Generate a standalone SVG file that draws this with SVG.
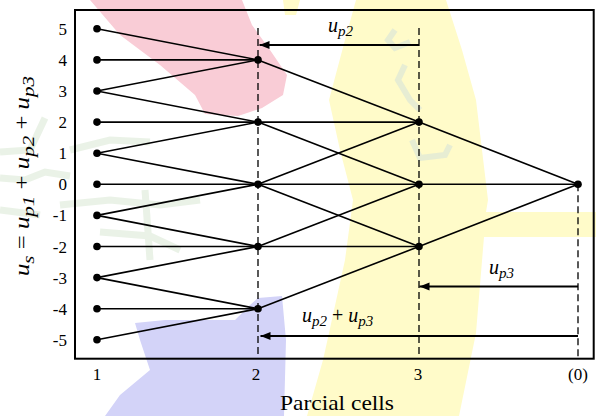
<svg xmlns="http://www.w3.org/2000/svg" width="596" height="416" viewBox="0 0 596 416">
<style>
.e{stroke:#000;stroke-width:1.6;fill:none}
.d{stroke:#000;stroke-width:1.3;stroke-dasharray:7,4;fill:none}
.a{stroke:#000;stroke-width:2;fill:none;marker-end:url(#ah)}
.n{fill:#000}
.t{font-family:"Liberation Serif","Times New Roman",serif;font-size:17px;fill:#000}
.v{font-family:"Liberation Serif","Times New Roman",serif;font-style:italic;font-size:20px;fill:#000}
.s{font-size:15px}
</style>
<defs>
<marker id="ah" markerUnits="userSpaceOnUse" markerWidth="11" markerHeight="9" refX="10" refY="4" orient="auto">
<path d="M0,0 L10,4 L0,8 Z" fill="#000"/>
</marker>
</defs>
<rect width="596" height="416" fill="#fff"/>
<g id="watermark">
<path d="M90,0 L242,0 L252,25 L270,50 L287,75 L283,95 L262,108 L238,116 L205,114 L195,95 L160,65 L120,35 Z" fill="#F9CCD6"/>
<path d="M356,0 L446,0 L462,50 L476,100 L488,200 L486,212 L596,212 L596,237 L484,237 L476,333 L459,416 L307,416 L323,360 L329,333 L345,260 L353,200 L340,150 L329,100 L345,40 Z" fill="#FFFBC9"/>
<path d="M283,0 L300,0 L296,15 L285,15 Z" fill="#FFFBC9"/>
<path d="M258,298 L282,296 L286,340 L284,416 L105,416 L120,395 L150,370 L140,340 L135,323 L165,320 L235,320 L250,305 Z" fill="#D3D3F8"/>
<g fill="none" stroke="#E6F0E2" stroke-width="7" opacity="0.8">
<path d="M0,152 L30,150 L45,118"/>
<path d="M0,178 L25,180 L45,172 L70,176"/>
<path d="M70,150 L110,140 L150,142"/>
<path d="M60,205 L110,200 L160,205 L200,200"/>
<path d="M100,232 L150,236 L180,250"/>
<path d="M145,190 L150,260"/>
<path d="M0,210 L40,215"/>
</g>
<g fill="none" stroke="#DDE8D8" stroke-width="6" opacity="0.7">
<path d="M395,30 L388,40 L395,48 L410,42"/>
<path d="M405,65 L398,80 L410,100 L420,110"/>
<path d="M412,140 L420,158 L445,155 L450,145"/>
</g>
</g>
<rect x="75" y="10" width="518.7" height="348.7" fill="none" stroke="#000" stroke-width="2"/>
<g id="guides">
<line class="d" x1="258" y1="28" x2="258" y2="358"/>
<line class="d" x1="419" y1="28" x2="419" y2="358"/>
<line class="d" x1="578" y1="184.3" x2="578" y2="358"/>
</g>
<g id="connectors">
<line class="e" x1="97" y1="28.8" x2="258" y2="59.9"/>
<line class="e" x1="97" y1="59.9" x2="258" y2="59.9"/>
<line class="e" x1="97" y1="91" x2="258" y2="59.9"/>
<line class="e" x1="97" y1="91" x2="258" y2="122.1"/>
<line class="e" x1="97" y1="122.1" x2="258" y2="122.1"/>
<line class="e" x1="97" y1="153.2" x2="258" y2="122.1"/>
<line class="e" x1="97" y1="153.2" x2="258" y2="184.3"/>
<line class="e" x1="97" y1="184.3" x2="258" y2="184.3"/>
<line class="e" x1="97" y1="215.4" x2="258" y2="184.3"/>
<line class="e" x1="97" y1="215.4" x2="258" y2="246.5"/>
<line class="e" x1="97" y1="246.5" x2="258" y2="246.5"/>
<line class="e" x1="97" y1="277.6" x2="258" y2="246.5"/>
<line class="e" x1="97" y1="277.6" x2="258" y2="308.7"/>
<line class="e" x1="97" y1="308.7" x2="258" y2="308.7"/>
<line class="e" x1="97" y1="339.8" x2="258" y2="308.7"/>
<line class="e" x1="258" y1="59.9" x2="419" y2="122.1"/>
<line class="e" x1="258" y1="122.1" x2="419" y2="122.1"/>
<line class="e" x1="258" y1="122.1" x2="419" y2="184.3"/>
<line class="e" x1="258" y1="184.3" x2="419" y2="122.1"/>
<line class="e" x1="258" y1="184.3" x2="419" y2="184.3"/>
<line class="e" x1="258" y1="184.3" x2="419" y2="246.5"/>
<line class="e" x1="258" y1="246.5" x2="419" y2="184.3"/>
<line class="e" x1="258" y1="246.5" x2="419" y2="246.5"/>
<line class="e" x1="258" y1="308.7" x2="419" y2="246.5"/>
<line class="e" x1="419" y1="122.1" x2="578" y2="184.3"/>
<line class="e" x1="419" y1="184.3" x2="578" y2="184.3"/>
<line class="e" x1="419" y1="246.5" x2="578" y2="184.3"/>
<line class="a" x1="419" y1="45" x2="259.5" y2="45"/>
<line class="a" x1="578" y1="286.5" x2="419.5" y2="286.5"/>
<line class="a" x1="578" y1="336" x2="260.5" y2="336"/>
</g>
<g id="n1_5"><circle class="n" cx="97" cy="28.8" r="3.8"/></g>
<g id="n1_4"><circle class="n" cx="97" cy="59.9" r="3.8"/></g>
<g id="n1_3"><circle class="n" cx="97" cy="91" r="3.8"/></g>
<g id="n1_2"><circle class="n" cx="97" cy="122.1" r="3.8"/></g>
<g id="n1_1"><circle class="n" cx="97" cy="153.2" r="3.8"/></g>
<g id="n1_0"><circle class="n" cx="97" cy="184.3" r="3.8"/></g>
<g id="n1_m1"><circle class="n" cx="97" cy="215.4" r="3.8"/></g>
<g id="n1_m2"><circle class="n" cx="97" cy="246.5" r="3.8"/></g>
<g id="n1_m3"><circle class="n" cx="97" cy="277.6" r="3.8"/></g>
<g id="n1_m4"><circle class="n" cx="97" cy="308.7" r="3.8"/></g>
<g id="n1_m5"><circle class="n" cx="97" cy="339.8" r="3.8"/></g>
<g id="n2_4"><circle class="n" cx="258" cy="59.9" r="3.8"/></g>
<g id="n2_2"><circle class="n" cx="258" cy="122.1" r="3.8"/></g>
<g id="n2_0"><circle class="n" cx="258" cy="184.3" r="3.8"/></g>
<g id="n2_m2"><circle class="n" cx="258" cy="246.5" r="3.8"/></g>
<g id="n2_m4"><circle class="n" cx="258" cy="308.7" r="3.8"/></g>
<g id="n3_2"><circle class="n" cx="419" cy="122.1" r="3.8"/></g>
<g id="n3_0"><circle class="n" cx="419" cy="184.3" r="3.8"/></g>
<g id="n3_m2"><circle class="n" cx="419" cy="246.5" r="3.8"/></g>
<g id="n0_0"><circle class="n" cx="578" cy="184.3" r="3.8"/></g>
<g id="yticks" class="t" text-anchor="end">
<text x="67" y="34.8">5</text>
<text x="67" y="65.9">4</text>
<text x="67" y="97">3</text>
<text x="67" y="128.1">2</text>
<text x="67" y="159.2">1</text>
<text x="67" y="190.3">0</text>
<text x="67" y="221.4">-1</text>
<text x="67" y="252.5">-2</text>
<text x="67" y="283.6">-3</text>
<text x="67" y="314.7">-4</text>
<text x="67" y="345.8">-5</text>
</g>
<g id="xticks" class="t" text-anchor="middle">
<text x="97" y="380">1</text>
<text x="256" y="380">2</text>
<text x="418" y="380">3</text>
<text x="578" y="380">(0)</text>
</g>
<text x="337" y="410" text-anchor="middle" font-family="'Liberation Serif','Times New Roman',serif" font-size="21" textLength="114" lengthAdjust="spacingAndGlyphs">Parcial cells</text>
<text class="v" x="328" y="32">u<tspan class="s" dy="4">p2</tspan></text>
<text class="v" x="489" y="274">u<tspan class="s" dy="4">p3</tspan></text>
<text class="v" x="302" y="322">u<tspan class="s" dy="4">p2</tspan><tspan dy="-4" font-style="normal"> + </tspan>u<tspan class="s" dy="4">p3</tspan></text>
<g transform="translate(29,176) rotate(-90) scale(1.24,1)">
<text class="v" x="0" y="0" text-anchor="middle" font-size="23">u<tspan font-size="17" dy="5">s</tspan><tspan dy="-5" font-style="normal"> = </tspan>u<tspan font-size="17" dy="5">p1</tspan><tspan dy="-5" font-style="normal"> + </tspan>u<tspan font-size="17" dy="5">p2</tspan><tspan dy="-5" font-style="normal"> + </tspan>u<tspan font-size="17" dy="5">p3</tspan></text>
</g>
</svg>
